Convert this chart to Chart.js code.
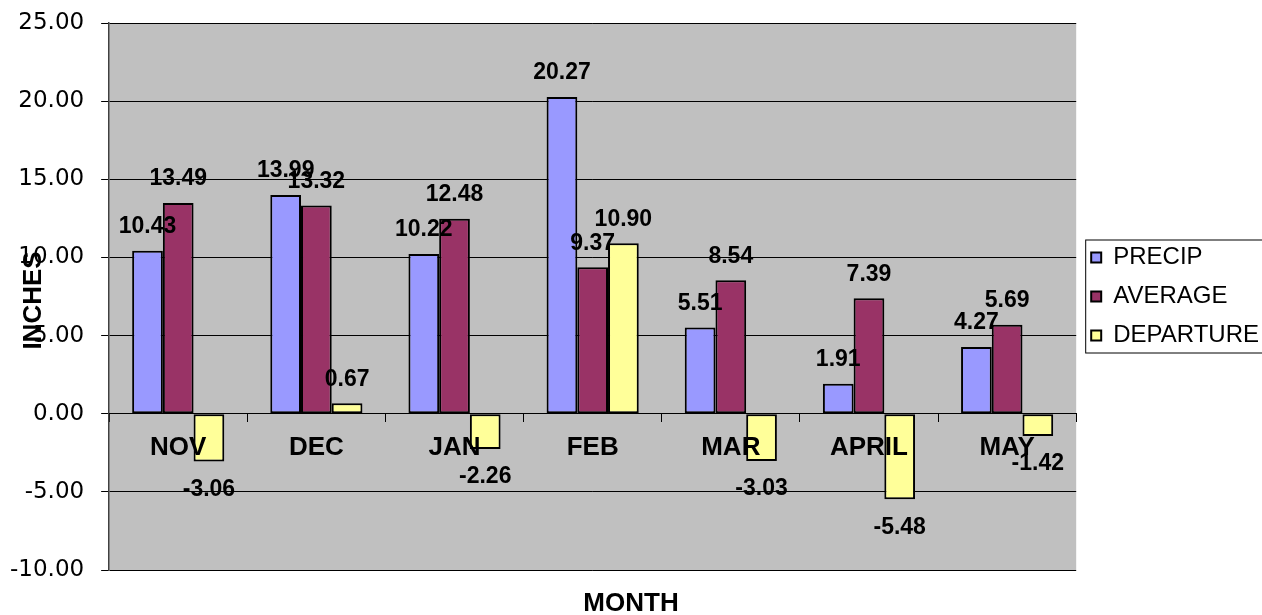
<!DOCTYPE html>
<html>
<head>
<meta charset="utf-8">
<script src="https://cdn.jsdelivr.net/npm/chart.js@4.4.0/dist/chart.umd.min.js"></script>
<style>
  html, body { margin: 0; padding: 0; background: #fff; }
</style>
</head>
<body>
<canvas id="rain-chart" width="1262" height="615"></canvas>
<script>
const months = ['NOV', 'DEC', 'JAN', 'FEB', 'MAR', 'APRIL', 'MAY'];
const precip = [10.43, 13.99, 10.22, 20.27, 5.51, 1.91, 4.27];
const average = [13.49, 13.32, 12.48, 9.37, 8.54, 7.39, 5.69];
const departure = [-3.06, 0.67, -2.26, 10.90, -3.03, -5.48, -1.42];
const yTicks = [-10, -5, 0, 5, 10, 15, 20, 25];

const ARIAL = 'Arial, "Liberation Sans", sans-serif';

// grey plot area like the old Excel chart
const plotBackground = {
    id: 'plotBackground',
    beforeDraw(chart) {
        const {ctx, chartArea} = chart;
        ctx.save();
        ctx.fillStyle = '#c0c0c0';
        ctx.fillRect(chartArea.left, chartArea.top, chartArea.right - chartArea.left, chartArea.bottom - chartArea.top);
        ctx.restore();
    }
};

// value labels above / below each bar
const valueLabels = {
    id: 'valueLabels',
    afterDatasetsDraw(chart) {
        const ctx = chart.ctx;
        ctx.save();
        ctx.font = 'bold 23px ' + ARIAL;
        ctx.fillStyle = '#000';
        ctx.textAlign = 'center';
        ctx.textBaseline = 'middle';
        chart.data.datasets.forEach((dataset, i) => {
            chart.getDatasetMeta(i).data.forEach((bar, j) => {
                const value = dataset.data[j];
                const y = value >= 0 ? bar.y - 24 : bar.y + 28;
                ctx.fillText(value.toFixed(2), bar.x, y);
            });
        });
        ctx.restore();
    }
};

// axis titles and legend frame
const extras = {
    id: 'extras',
    afterDraw(chart) {
        const ctx = chart.ctx;
        const legend = chart.legend;
        ctx.save();
        if (legend && legend.legendHitBoxes.length) {
            const boxes = legend.legendHitBoxes;
            const first = boxes[0];
            const last = boxes[boxes.length - 1];
            ctx.strokeStyle = '#000';
            ctx.lineWidth = 1;
            ctx.strokeRect(first.left - 5.5, first.top - 5.5, chart.width, last.top + last.height - first.top + 11);
        }
        ctx.fillStyle = '#000';
        ctx.font = 'bold 26px ' + ARIAL;
        ctx.textAlign = 'center';
        ctx.textBaseline = 'middle';
        ctx.fillText('MONTH', chart.width / 2, 604);
        const area = chart.chartArea;
        ctx.translate(34, (area.top + area.bottom) / 2 + 4);
        ctx.rotate(-Math.PI / 2);
        ctx.fillText('INCHES', 0, 0);
        ctx.restore();
    }
};

new Chart(document.getElementById('rain-chart'), {
    type: 'bar',
    data: {
        labels: months,
        datasets: [
            { label: 'PRECIP', data: precip, backgroundColor: '#9999ff' },
            { label: 'AVERAGE', data: average, backgroundColor: '#993366' },
            { label: 'DEPARTURE', data: departure, backgroundColor: '#ffff99' }
        ]
    },
    options: {
        responsive: false,
        animation: false,
        layout: {
            autoPadding: false,
            padding: { left: -7, right: -7, top: 23, bottom: 45 }
        },
        datasets: {
            bar: {
                borderColor: '#000',
                borderWidth: 2,
                borderSkipped: false,
                categoryPercentage: 0.667,
                barPercentage: 1.0
            }
        },
        plugins: {
            legend: {
                position: 'right',
                onClick: null,
                labels: {
                    boxWidth: 10,
                    boxHeight: 10,
                    padding: 15,
                    color: '#000',
                    font: { family: ARIAL, size: 24 }
                }
            },
            tooltip: { enabled: false }
        },
        scales: {
            x: {
                position: { y: 0 },
                grid: {
                    offset: true,
                    drawOnChartArea: false,
                    drawTicks: true,
                    tickLength: 8,
                    color: '#000'
                },
                border: { display: true, color: '#000', width: 1, z: 1 },
                ticks: {
                    z: 1,
                    padding: 11,
                    color: '#000',
                    font: { family: ARIAL, size: 26, weight: 'bold' }
                }
            },
            y: {
                min: -10,
                max: 25,
                afterBuildTicks: axis => {
                    axis.ticks = yTicks.map(v => ({ value: v }));
                },
                grid: {
                    color: '#000',
                    lineWidth: 1,
                    tickLength: 8
                },
                border: { display: true, color: '#404040', width: 1.5 },
                ticks: {
                    padding: 17,
                    color: '#000',
                    font: { family: '"DejaVu Sans", sans-serif', size: 23, lineHeight: 0.5 },
                    callback: v => Number(v).toFixed(2)
                }
            }
        }
    },
    plugins: [plotBackground, valueLabels, extras]
});
</script>
</body>
</html>
